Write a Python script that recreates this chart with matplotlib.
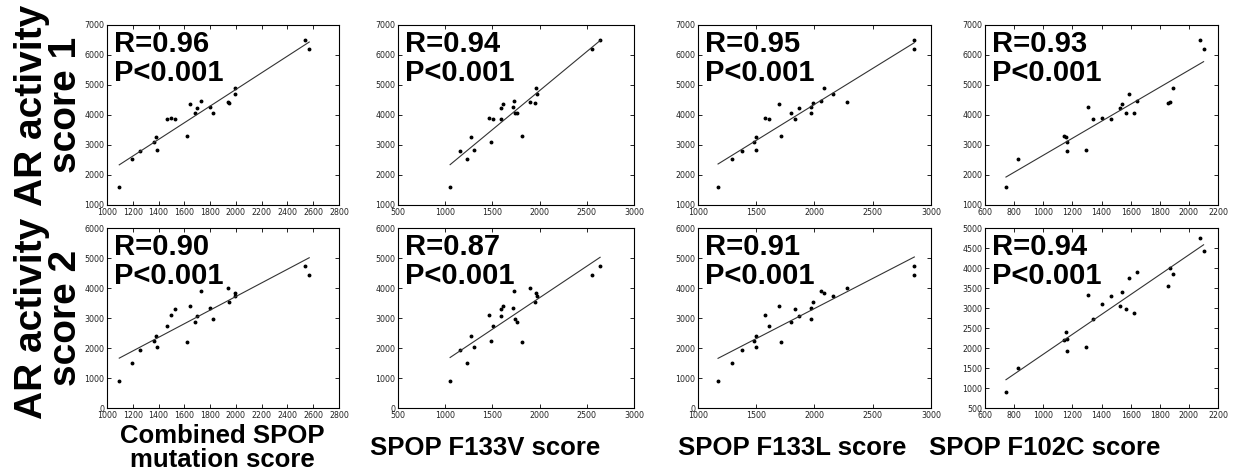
import numpy as np
import matplotlib
matplotlib.use('Agg')
import matplotlib.pyplot as plt
from matplotlib.ticker import MultipleLocator

# AR activity scores (22 samples)
score1 = [1610, 2520, 2790, 3100, 3270, 2845, 3870, 3910, 3880, 3300, 4360,
          4078, 4233, 4467, 4267, 4078, 4422, 4389, 4900, 4689, 6500, 6189]
score2 = [900, 1500, 1922, 2233, 2400, 2033, 2722, 3089, 3311, 2200, 3411,
          2867, 3056, 3900, 3333, 2978, 4000, 3544, 3850, 3750, 4740, 4430]

# SPOP mutation scores for the same samples
combined = [1095, 1195, 1255, 1366, 1377, 1390, 1462, 1493, 1526, 1619, 1642,
            1684, 1702, 1728, 1803, 1819, 1937, 1948, 1991, 1994, 2535, 2569]
f133v = [1052, 1226, 1162, 1484, 1275, 1307, 1509, 1463, 1594, 1813, 1608,
         1764, 1587, 1728, 1714, 1735, 1902, 1955, 1962, 1969, 2641, 2553]
f133l = [1172, 1292, 1375, 1484, 1496, 1496, 1610, 1576, 1831, 1710, 1693,
         1799, 1868, 2052, 1971, 1968, 2281, 1983, 2083, 2163, 2857, 2857]
f102c = [744, 825, 1162, 1166, 1159, 1292, 1344, 1406, 1468, 1145, 1539,
         1620, 1525, 1643, 1310, 1571, 1873, 1856, 1890, 1587, 2078, 2101]

x_series = [combined, f133v, f133l, f102c]
y_series = [score1, score2]

x_labels = ['Combined SPOP\nmutation score', 'SPOP F133V score',
            'SPOP F133L score', 'SPOP F102C score']
y_labels = ['AR activity\nscore 1', 'AR activity\nscore 2']

r_values = [['R=0.96', 'R=0.94', 'R=0.95', 'R=0.93'],
            ['R=0.90', 'R=0.87', 'R=0.91', 'R=0.94']]
p_text = 'P<0.001'

x_lims = [(1000, 2800), (500, 3000), (1000, 3000), (600, 2200)]
x_steps = [200, 500, 500, 200]
y_lims = [[(1000, 7000)] * 4, [(0, 6000), (0, 6000), (0, 6000), (500, 5000)]]
y_steps = [[1000] * 4, [1000, 1000, 1000, 500]]

W, H = 1253, 475
fig = plt.figure(figsize=(W / 100, H / 100), dpi=100)

lefts = [107, 398, 698, 985]
widths = [232, 236, 233, 233]
tops = [25, 228]
ah = 180

bold = dict(family=['Liberation Sans', 'DejaVu Sans'], weight='bold', color='black')

for r in range(2):
    for c in range(4):
        ax = fig.add_axes([lefts[c] / W, 1 - (tops[r] + ah) / H, widths[c] / W, ah / H])
        x = np.array(x_series[c], dtype=float)
        y = np.array(y_series[r], dtype=float)
        ax.plot(x, y, 'k.', ms=3.6)
        # regression line
        a, b = np.polyfit(x, y, 1)
        xx = np.array([x.min(), x.max()])
        ax.plot(xx, a * xx + b, color='#333333', lw=0.8)

        ax.set_xlim(*x_lims[c])
        ax.set_ylim(*y_lims[r][c])
        ax.xaxis.set_major_locator(MultipleLocator(x_steps[c]))
        ax.yaxis.set_major_locator(MultipleLocator(y_steps[r][c]))
        ax.tick_params(direction='in', top=True, right=True, length=3, width=0.6,
                       labelsize=5.7, pad=2, colors='black', labelcolor='#222222')
        for s in ax.spines.values():
            s.set_linewidth(0.8)

        ax.text(0.03, 0.852, r_values[r][c], transform=ax.transAxes, fontsize=21,
                va='baseline', ha='left', **bold)
        ax.text(0.03, 0.691, p_text, transform=ax.transAxes, fontsize=21,
                va='baseline', ha='left', **bold)

# row labels
for r, yc in enumerate([105, 318]):
    fig.text(49 / W, 1 - yc / H, y_labels[r], rotation=90, ha='center', va='center',
             multialignment='center', fontsize=28, linespacing=0.95, **bold)

# column labels
for c, xc in enumerate([222, 485, 792, 1045]):
    fig.text(xc / W, 1 - 448 / H, x_labels[c], ha='center', va='center',
             multialignment='center', fontsize=18.5, linespacing=1.02, **bold)

fig.savefig('out.png', dpi=100)
